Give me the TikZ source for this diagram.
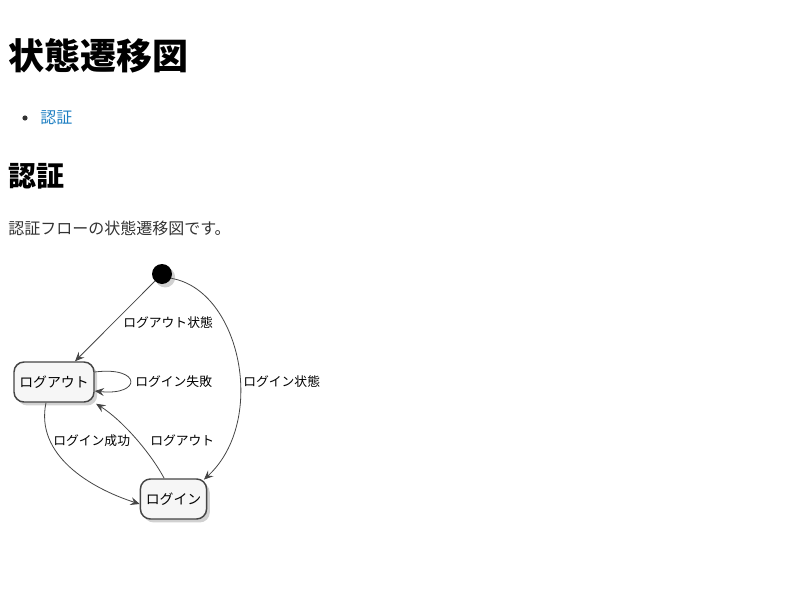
\documentclass[tikz,border=0pt]{standalone}
\usepackage{fontspec}
\setmainfont{Noto Sans CJK JP}
\usetikzlibrary{arrows.meta,shadows}
\definecolor{linkblue}{HTML}{1E7FC2}
\definecolor{bodygray}{HTML}{333333}
\definecolor{edgegray}{HTML}{454545}
\definecolor{statefill}{HTML}{F6F6F6}
\begin{document}
\begin{tikzpicture}[x=0.75pt,y=-0.75pt,
  softshadow/.style={drop shadow={shadow xshift=2.4pt, shadow yshift=-2.6pt, opacity=0.3, fill=black!60}},
  statebox/.style={draw=edgegray, line width=1.1pt, fill=statefill, rounded corners=7.5pt,
    minimum height=30pt, inner xsep=4pt, softshadow, font=\fontsize{10.4pt}{12pt}\selectfont},
  trans/.style={draw=edgegray, line width=0.6pt, -{Stealth[length=7pt,width=6pt,inset=2.6pt]}},
  elabel/.style={anchor=west, font=\fontsize{9.6pt}{11pt}\selectfont, inner sep=0pt}]
\useasboundingbox (0,0) rectangle (800,600);

% page headings and text
\node[anchor=west, font=\fontsize{27pt}{30pt}\selectfont\bfseries, inner sep=0pt] (title) at (8,56) {状態遷移図};
\fill[bodygray] (25,118) circle (2.6);
\node[anchor=west, text=linkblue, font=\fontsize{12pt}{14pt}\selectfont, inner sep=0pt] (toc) at (40,118) {認証};
\node[anchor=west, font=\fontsize{21pt}{24pt}\selectfont\bfseries, inner sep=0pt] (sect) at (8,176) {認証};
\node[anchor=west, text=bodygray, font=\fontsize{12pt}{14pt}\selectfont, inner sep=0pt] (para) at (8,228) {認証フローの状態遷移図です。};

% states
\node[circle, fill=black, minimum size=15pt, inner sep=0pt, softshadow] (start) at (162,274) {};
\node[statebox, minimum width=60pt] (out) at (54,382) {ログアウト};
\node[statebox, minimum width=48.75pt] (in) at (173.5,499) {ログイン};

% transitions
\draw[trans] (start) -- ([xshift=15.75pt]out.north);
\node[elabel] (l1) at (123,323) {ログアウト状態};

\draw[trans] (start.-25) .. controls (240,290) and (268,420) .. ([xshift=-2.5pt,yshift=-1pt]in.north east);
\node[elabel] (l2) at (243,382) {ログイン状態};

\draw[trans] ([yshift=7.5pt]out.east) .. controls (142,366) and (142,396) .. ([yshift=-6.75pt]out.east);
\node[elabel] (l3) at (135,382) {ログイン失敗};

\draw[trans] ([xshift=-6pt]out.south) .. controls (35,455) and (90,488) .. ([yshift=-3.75pt]in.west);
\node[elabel] (l4) at (53,441) {ログイン成功};

\draw[trans] ([xshift=-7pt]in.north) .. controls (150,452) and (122,420) .. ([xshift=1pt,yshift=-0.75pt]out.south east);
\node[elabel] (l5) at (150,441) {ログアウト};
\end{tikzpicture}
\end{document}
